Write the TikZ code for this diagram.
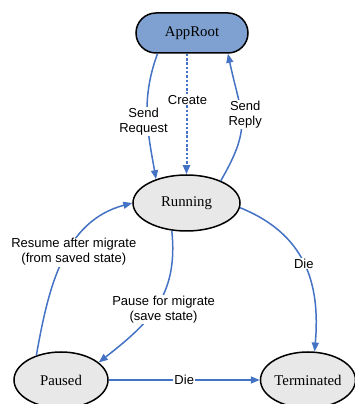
\documentclass[tikz,border=0pt]{standalone}
\usepackage{fontspec}
\setmainfont{Liberation Serif}
\newfontfamily\labelfont{Liberation Sans}
\usetikzlibrary{arrows.meta,shapes.geometric}

\definecolor{flowblue}{RGB}{68,114,196}
\definecolor{rootfill}{RGB}{127,161,209}
\definecolor{statefill}{RGB}{232,232,232}

\begin{document}
\begin{tikzpicture}[x=1pt,y=1pt,
  state/.style={ellipse,draw=black,line width=1.5pt,fill=statefill,
    minimum width=94pt,minimum height=56pt,inner sep=0pt,
    font=\fontsize{14.8}{16}\selectfont},
  rootbox/.style={rectangle,rounded corners=20pt,draw=black,line width=1.5pt,
    fill=rootfill,minimum width=112pt,minimum height=40pt,
    font=\fontsize{14.8}{16}\selectfont},
  flow/.style={draw=flowblue,line width=1.5pt,-{Triangle[length=9pt,width=7pt]}},
  createline/.style={flow,dash pattern=on 2.5pt off 1.8pt,line width=2pt},
  lbl/.style={font=\labelfont\fontsize{13}{15}\selectfont,fill=white,
    inner sep=1pt,align=center}
]
\useasboundingbox (0,0) rectangle (355,404);

% states
\node[rootbox] (app) at (192,371) {AppRoot};
\node[state,minimum width=107pt] (run) at (186.5,201) {Running};
\node[state] (paused) at (61,24) {Paused};
\node[state] (term) at (308,24) {Terminated};

% transitions
\draw[flow] (app.211) to[out=-110,in=100]
  node[lbl,pos=.55,xshift=-4pt] {Send\\Request} (run.142);
\draw[createline] (run.north |- app.south) --
  node[lbl,pos=.38,xshift=1pt] {Create} (run.north);
\draw[flow] (run.33) to[out=60,in=-78,looseness=1.3]
  node[lbl,pos=.55,xshift=4pt] {Send\\Reply} (app.330);
\draw[flow] (run.-5) to[out=-22,in=85,looseness=1.1]
  node[lbl,pos=.5] {Die} (term.77);
\draw[flow] (run.-118) to[out=-84,in=38,looseness=1.1]
  node[lbl,pos=.53,xshift=9pt] {Pause for migrate\\(save state)} (paused.25);
\draw[flow] (paused.135) to[out=80,in=195]
  node[lbl,pos=.55,xshift=6pt] {Resume after migrate\\(from saved state)} (run.west);
\draw[flow] (paused) -- node[lbl] {Die} (term);
\end{tikzpicture}
\end{document}
